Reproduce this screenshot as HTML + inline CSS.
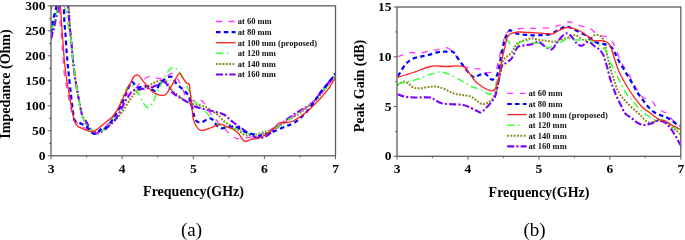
<!DOCTYPE html>
<html><head><meta charset="utf-8"><style>
html,body{margin:0;padding:0;background:#fff;width:685px;height:240px;overflow:hidden}
svg{display:block;filter:blur(0.3px)}
</style></head><body>
<svg width="685" height="240" viewBox="0 0 685 240">
<defs>
<clipPath id="ca"><rect x="51.0" y="5.8" width="284.5" height="150.0"/></clipPath>
<clipPath id="cb"><rect x="397.0" y="7.0" width="283.79999999999995" height="149.3"/></clipPath>
</defs>
<style>
text{font-family:'Liberation Serif',serif;fill:#000}
.tl{font-size:13.5px;font-weight:bold}
.at{font-size:14px;font-weight:bold}
.lg{font-size:8.5px;font-weight:bold;fill:#111}
.cap{font-size:19px}
</style>
<rect width="685" height="240" fill="#fff"/>
<g clip-path="url(#ca)" fill="none" stroke-linejoin="round">
<path d="M51.20,3.00 C51.67,1.50 52.87,-4.17 54.00,-6.00 C55.13,-7.83 56.50,-8.00 58.00,-8.00 C59.50,-8.00 61.50,-7.00 63.00,-6.00 C64.50,-5.00 66.00,-4.67 67.00,-2.00 C68.00,0.67 68.42,3.83 69.00,10.00 C69.58,16.17 69.92,27.50 70.50,35.00 C71.08,42.50 71.80,48.33 72.50,55.00 C73.20,61.67 73.78,68.33 74.70,75.00 C75.62,81.67 76.78,88.33 78.00,95.00 C79.22,101.67 81.17,111.17 82.00,115.00 C82.83,118.83 82.33,116.50 83.00,118.00 C83.67,119.50 84.83,122.17 86.00,124.00 C87.17,125.83 88.55,127.67 90.00,129.00 C91.45,130.33 93.03,131.67 94.70,132.00 C96.37,132.33 98.28,131.62 100.00,131.00 C101.72,130.38 102.78,129.85 105.00,128.30 C107.22,126.75 110.80,123.92 113.30,121.70 C115.80,119.48 118.05,117.37 120.00,115.00 C121.95,112.63 123.33,110.08 125.00,107.50 C126.67,104.92 128.62,101.58 130.00,99.50 C131.38,97.42 132.18,96.30 133.30,95.00 C134.42,93.70 135.03,92.82 136.70,91.70 C138.37,90.58 141.08,89.42 143.30,88.30 C145.52,87.18 148.05,85.97 150.00,85.00 C151.95,84.03 153.33,83.25 155.00,82.50 C156.67,81.75 158.33,80.92 160.00,80.50 C161.67,80.08 163.62,79.25 165.00,80.00 C166.38,80.75 167.18,83.33 168.30,85.00 C169.42,86.67 170.30,88.47 171.70,90.00 C173.10,91.53 175.03,92.82 176.70,94.20 C178.37,95.58 180.32,97.17 181.70,98.30 C183.08,99.43 183.73,100.22 185.00,101.00 C186.27,101.78 187.18,102.38 189.30,103.00 C191.42,103.62 194.92,104.00 197.70,104.70 C200.48,105.40 203.50,106.10 206.00,107.20 C208.50,108.30 210.70,110.00 212.70,111.30 C214.70,112.60 216.00,113.27 218.00,115.00 C220.00,116.73 222.48,119.90 224.70,121.70 C226.92,123.50 229.08,124.42 231.30,125.80 C233.52,127.18 235.77,128.47 238.00,130.00 C240.23,131.53 242.70,134.17 244.70,135.00 C246.70,135.83 248.28,135.05 250.00,135.00 C251.72,134.95 252.78,135.17 255.00,134.70 C257.22,134.23 260.80,132.90 263.30,132.20 C265.80,131.50 267.50,131.48 270.00,130.50 C272.50,129.52 274.97,128.22 278.30,126.30 C281.63,124.38 286.38,121.22 290.00,119.00 C293.62,116.78 296.67,115.33 300.00,113.00 C303.33,110.67 307.00,107.50 310.00,105.00 C313.00,102.50 315.50,100.67 318.00,98.00 C320.50,95.33 322.08,92.67 325.00,89.00 C327.92,85.33 333.75,78.17 335.50,76.00" stroke="#858510" stroke-width="2.0" stroke-dasharray="1.8 1.5" stroke-linecap="butt"/>
<path d="M51.20,39.00 C51.42,38.00 52.05,34.77 52.50,33.00 C52.95,31.23 53.48,30.07 53.90,28.40 C54.32,26.73 54.55,25.17 55.00,23.00 C55.45,20.83 55.98,17.90 56.60,15.40 C57.23,12.90 58.18,10.07 58.75,8.00 C59.32,5.93 59.29,5.17 60.00,3.00 C60.71,0.83 62.00,-4.50 63.00,-5.00 C64.00,-5.50 65.17,-1.87 66.00,0.00 C66.83,1.87 67.58,4.08 68.00,6.20 C68.42,8.32 68.33,10.73 68.50,12.70 C68.67,14.67 68.83,15.83 69.00,18.00 C69.17,20.17 69.12,22.03 69.50,25.70 C69.88,29.37 70.80,35.12 71.30,40.00 C71.80,44.88 71.93,49.17 72.50,55.00 C73.07,60.83 73.78,68.33 74.70,75.00 C75.62,81.67 76.78,88.33 78.00,95.00 C79.22,101.67 80.88,111.00 82.00,115.00 C83.12,119.00 83.78,117.50 84.70,119.00 C85.62,120.50 86.53,122.37 87.50,124.00 C88.47,125.63 89.30,127.30 90.50,128.80 C91.70,130.30 93.28,132.30 94.70,133.00 C96.12,133.70 97.33,133.55 99.00,133.00 C100.67,132.45 102.87,131.03 104.70,129.70 C106.53,128.37 108.28,126.62 110.00,125.00 C111.72,123.38 113.33,122.22 115.00,120.00 C116.67,117.78 118.33,114.75 120.00,111.70 C121.67,108.65 123.62,104.20 125.00,101.70 C126.38,99.20 127.30,98.23 128.30,96.70 C129.30,95.17 129.88,93.62 131.00,92.50 C132.12,91.38 133.22,90.58 135.00,90.00 C136.78,89.42 139.48,89.33 141.70,89.00 C143.92,88.67 146.37,88.37 148.30,88.00 C150.23,87.63 151.35,87.55 153.30,86.80 C155.25,86.05 158.05,84.27 160.00,83.50 C161.95,82.73 163.62,81.67 165.00,82.20 C166.38,82.73 167.18,85.12 168.30,86.70 C169.42,88.28 170.30,90.18 171.70,91.70 C173.10,93.22 175.15,94.70 176.70,95.80 C178.25,96.90 179.17,97.23 181.00,98.30 C182.83,99.37 185.48,100.87 187.70,102.20 C189.92,103.53 191.80,105.20 194.30,106.30 C196.80,107.40 200.13,108.08 202.70,108.80 C205.27,109.52 207.15,109.98 209.70,110.60 C212.25,111.22 215.50,111.77 218.00,112.50 C220.50,113.23 222.48,113.62 224.70,115.00 C226.92,116.38 229.08,119.00 231.30,120.80 C233.52,122.60 235.77,124.18 238.00,125.80 C240.23,127.42 242.70,129.05 244.70,130.50 C246.70,131.95 248.18,133.38 250.00,134.50 C251.82,135.62 253.97,136.58 255.60,137.20 C257.23,137.82 258.40,138.20 259.80,138.20 C261.20,138.20 262.63,137.72 264.00,137.20 C265.37,136.68 266.67,136.05 268.00,135.10 C269.33,134.15 270.00,133.18 272.00,131.50 C274.00,129.82 277.28,127.20 280.00,125.00 C282.72,122.80 285.25,120.52 288.30,118.30 C291.35,116.08 295.23,113.63 298.30,111.70 C301.37,109.77 304.20,108.37 306.70,106.70 C309.20,105.03 311.42,103.48 313.30,101.70 C315.18,99.92 316.05,98.45 318.00,96.00 C319.95,93.55 322.08,90.67 325.00,87.00 C327.92,83.33 333.75,76.17 335.50,74.00" stroke="#7a00ff" stroke-width="2.1" stroke-dasharray="7 2.2 2 2.2" stroke-linecap="butt"/>
<path d="M51.20,31.00 C51.45,30.33 52.23,28.50 52.70,27.00 C53.17,25.50 53.45,24.17 54.00,22.00 C54.55,19.83 55.33,16.67 56.00,14.00 C56.67,11.33 57.33,8.83 58.00,6.00 C58.67,3.17 59.17,-1.83 60.00,-3.00 C60.83,-4.17 62.30,-2.50 63.00,-1.00 C63.70,0.50 63.65,3.83 64.20,6.00 C64.75,8.17 65.67,8.83 66.30,12.00 C66.93,15.17 67.30,21.17 68.00,25.00 C68.70,28.83 69.75,30.00 70.50,35.00 C71.25,40.00 71.80,48.33 72.50,55.00 C73.20,61.67 73.78,68.33 74.70,75.00 C75.62,81.67 76.78,88.33 78.00,95.00 C79.22,101.67 80.67,110.17 82.00,115.00 C83.33,119.83 84.58,121.58 86.00,124.00 C87.42,126.42 88.78,127.72 90.50,129.50 C92.22,131.28 94.38,134.45 96.30,134.70 C98.22,134.95 100.05,132.62 102.00,131.00 C103.95,129.38 105.83,127.67 108.00,125.00 C110.17,122.33 113.00,118.33 115.00,115.00 C117.00,111.67 118.88,107.78 120.00,105.00 C121.12,102.22 120.58,101.08 121.70,98.30 C122.82,95.52 125.32,90.52 126.70,88.30 C128.08,86.08 128.90,85.27 130.00,85.00 C131.10,84.73 132.13,85.62 133.30,86.70 C134.47,87.78 135.87,89.90 137.00,91.50 C138.13,93.10 139.18,94.63 140.10,96.30 C141.02,97.97 141.60,99.88 142.50,101.50 C143.40,103.12 144.63,104.98 145.50,106.00 C146.37,107.02 147.00,107.45 147.70,107.60 C148.40,107.75 148.98,107.50 149.70,106.90 C150.42,106.30 151.28,105.07 152.00,104.00 C152.72,102.93 153.40,101.83 154.00,100.50 C154.60,99.17 155.02,97.50 155.60,96.00 C156.18,94.50 156.77,93.05 157.50,91.50 C158.23,89.95 158.75,89.17 160.00,86.70 C161.25,84.23 163.47,79.48 165.00,76.70 C166.53,73.92 167.82,71.53 169.20,70.00 C170.58,68.47 171.78,67.37 173.30,67.50 C174.82,67.63 176.77,69.27 178.30,70.80 C179.83,72.33 181.10,74.33 182.50,76.70 C183.90,79.07 185.45,82.23 186.70,85.00 C187.95,87.77 188.95,90.97 190.00,93.30 C191.05,95.63 191.72,97.10 193.00,99.00 C194.28,100.90 196.23,103.07 197.70,104.70 C199.17,106.33 200.28,107.42 201.80,108.80 C203.32,110.18 205.40,111.60 206.80,113.00 C208.20,114.40 209.17,116.03 210.20,117.20 C211.23,118.37 211.70,118.83 213.00,120.00 C214.30,121.17 215.78,122.95 218.00,124.20 C220.22,125.45 223.25,126.67 226.30,127.50 C229.35,128.33 233.23,128.50 236.30,129.20 C239.37,129.90 242.42,130.90 244.70,131.70 C246.98,132.50 247.73,133.50 250.00,134.00 C252.27,134.50 254.97,135.15 258.30,134.70 C261.63,134.25 266.38,132.83 270.00,131.30 C273.62,129.77 276.67,127.67 280.00,125.50 C283.33,123.33 286.67,120.55 290.00,118.30 C293.33,116.05 296.67,114.38 300.00,112.00 C303.33,109.62 307.00,106.50 310.00,104.00 C313.00,101.50 315.50,99.50 318.00,97.00 C320.50,94.50 322.08,92.50 325.00,89.00 C327.92,85.50 333.75,78.17 335.50,76.00" stroke="#3dff3d" stroke-width="1.5" stroke-dasharray="7.3 3.4 1.6 3.4" stroke-linecap="butt"/>
<path d="M51.20,2.00 C51.67,0.67 52.95,-5.00 54.00,-6.00 C55.05,-7.00 56.63,-6.00 57.50,-4.00 C58.37,-2.00 58.82,2.83 59.20,6.00 C59.58,9.17 59.60,11.50 59.80,15.00 C60.00,18.50 60.17,24.00 60.40,27.00 C60.63,30.00 60.93,30.33 61.20,33.00 C61.47,35.67 61.73,39.33 62.00,43.00 C62.27,46.67 62.40,49.67 62.80,55.00 C63.20,60.33 63.82,70.00 64.40,75.00 C64.98,80.00 65.53,80.83 66.30,85.00 C67.07,89.17 68.05,95.50 69.00,100.00 C69.95,104.50 71.00,108.67 72.00,112.00 C73.00,115.33 73.67,117.75 75.00,120.00 C76.33,122.25 78.33,124.17 80.00,125.50 C81.67,126.83 83.33,127.08 85.00,128.00 C86.67,128.92 88.33,130.17 90.00,131.00 C91.67,131.83 93.33,132.92 95.00,133.00 C96.67,133.08 98.33,132.50 100.00,131.50 C101.67,130.50 103.17,128.92 105.00,127.00 C106.83,125.08 109.00,122.83 111.00,120.00 C113.00,117.17 115.17,113.00 117.00,110.00 C118.83,107.00 120.50,104.33 122.00,102.00 C123.50,99.67 124.67,97.50 126.00,96.00 C127.33,94.50 128.22,94.50 130.00,93.00 C131.78,91.50 135.03,88.67 136.70,87.00 C138.37,85.33 138.90,84.17 140.00,83.00 C141.10,81.83 142.18,80.92 143.30,80.00 C144.42,79.08 145.25,78.08 146.70,77.50 C148.15,76.92 150.62,76.50 152.00,76.50 C153.38,76.50 153.95,77.20 155.00,77.50 C156.05,77.80 156.92,78.13 158.30,78.30 C159.68,78.47 161.63,79.05 163.30,78.50 C164.97,77.95 166.90,75.87 168.30,75.00 C169.70,74.13 170.58,73.13 171.70,73.30 C172.82,73.47 173.90,74.88 175.00,76.00 C176.10,77.12 177.33,78.50 178.30,80.00 C179.27,81.50 179.97,83.20 180.80,85.00 C181.63,86.80 182.47,88.85 183.30,90.80 C184.13,92.75 185.02,95.08 185.80,96.70 C186.58,98.32 186.97,99.78 188.00,100.50 C189.03,101.22 190.83,101.00 192.00,101.00 C193.17,101.00 193.78,100.72 195.00,100.50 C196.22,100.28 198.02,99.57 199.30,99.70 C200.58,99.83 201.72,100.47 202.70,101.30 C203.68,102.13 204.37,103.30 205.20,104.70 C206.03,106.10 206.40,107.73 207.70,109.70 C209.00,111.67 211.57,114.78 213.00,116.50 C214.43,118.22 215.13,118.75 216.30,120.00 C217.47,121.25 218.60,122.62 220.00,124.00 C221.40,125.38 223.23,126.75 224.70,128.30 C226.17,129.85 226.87,131.63 228.80,133.30 C230.73,134.97 234.22,137.47 236.30,138.30 C238.38,139.13 239.35,138.43 241.30,138.30 C243.25,138.17 245.22,137.88 248.00,137.50 C250.78,137.12 255.17,136.75 258.00,136.00 C260.83,135.25 263.00,134.00 265.00,133.00 C267.00,132.00 267.50,131.50 270.00,130.00 C272.50,128.50 276.67,126.00 280.00,124.00 C283.33,122.00 286.67,120.00 290.00,118.00 C293.33,116.00 296.67,114.33 300.00,112.00 C303.33,109.67 307.00,106.50 310.00,104.00 C313.00,101.50 315.50,99.50 318.00,97.00 C320.50,94.50 322.08,92.50 325.00,89.00 C327.92,85.50 333.75,78.17 335.50,76.00" stroke="#ff33ff" stroke-width="1.3" stroke-dasharray="6 6.5" stroke-linecap="butt"/>
<path d="M51.20,33.00 C51.37,31.83 51.85,28.33 52.20,26.00 C52.55,23.67 52.75,21.50 53.30,19.00 C53.85,16.50 54.97,13.17 55.50,11.00 C56.03,8.83 56.00,8.50 56.50,6.00 C57.00,3.50 57.67,-2.50 58.50,-4.00 C59.33,-5.50 60.65,-4.70 61.50,-3.00 C62.35,-1.30 63.15,2.70 63.60,6.20 C64.05,9.70 64.02,14.75 64.20,18.00 C64.38,21.25 64.48,22.87 64.70,25.70 C64.92,28.53 65.20,30.95 65.50,35.00 C65.80,39.05 66.17,45.50 66.50,50.00 C66.83,54.50 67.12,57.83 67.50,62.00 C67.88,66.17 68.22,69.50 68.80,75.00 C69.38,80.50 70.30,88.83 71.00,95.00 C71.70,101.17 72.38,107.75 73.00,112.00 C73.62,116.25 73.58,118.67 74.70,120.50 C75.82,122.33 77.77,122.03 79.70,123.00 C81.63,123.97 84.37,124.77 86.30,126.30 C88.23,127.83 89.63,130.95 91.30,132.20 C92.97,133.45 94.57,134.45 96.30,133.80 C98.03,133.15 99.97,129.35 101.70,128.30 C103.43,127.25 104.77,129.17 106.70,127.50 C108.63,125.83 111.37,121.22 113.30,118.30 C115.23,115.38 116.77,112.63 118.30,110.00 C119.83,107.37 121.47,104.72 122.50,102.50 C123.53,100.28 123.58,98.95 124.50,96.70 C125.42,94.45 126.83,91.45 128.00,89.00 C129.17,86.55 130.33,82.67 131.50,82.00 C132.67,81.33 133.92,84.08 135.00,85.00 C136.08,85.92 136.88,87.22 138.00,87.50 C139.12,87.78 140.25,86.95 141.70,86.70 C143.15,86.45 145.23,85.70 146.70,86.00 C148.17,86.30 149.12,87.67 150.50,88.50 C151.88,89.33 153.83,91.08 155.00,91.00 C156.17,90.92 156.67,89.33 157.50,88.00 C158.33,86.67 158.75,84.47 160.00,83.00 C161.25,81.53 163.33,80.25 165.00,79.20 C166.67,78.15 168.62,76.85 170.00,76.70 C171.38,76.55 172.18,77.05 173.30,78.30 C174.42,79.55 175.30,82.53 176.70,84.20 C178.10,85.87 180.03,86.78 181.70,88.30 C183.37,89.82 185.48,91.85 186.70,93.30 C187.92,94.75 188.28,95.38 189.00,97.00 C189.72,98.62 190.38,100.88 191.00,103.00 C191.62,105.12 192.12,107.37 192.70,109.70 C193.28,112.03 193.78,115.03 194.50,117.00 C195.22,118.97 195.87,120.58 197.00,121.50 C198.13,122.42 200.02,122.62 201.30,122.50 C202.58,122.38 203.30,121.50 204.70,120.80 C206.10,120.10 208.32,118.43 209.70,118.30 C211.08,118.17 211.90,118.88 213.00,120.00 C214.10,121.12 214.92,123.62 216.30,125.00 C217.68,126.38 219.35,128.02 221.30,128.30 C223.25,128.58 226.05,126.97 228.00,126.70 C229.95,126.43 231.33,126.57 233.00,126.70 C234.67,126.83 236.05,126.67 238.00,127.50 C239.95,128.33 242.70,130.70 244.70,131.70 C246.70,132.70 248.00,132.95 250.00,133.50 C252.00,134.05 255.03,134.62 256.70,135.00 C258.37,135.38 258.45,135.97 260.00,135.80 C261.55,135.63 263.78,134.68 266.00,134.00 C268.22,133.32 270.13,132.92 273.30,131.70 C276.47,130.48 281.67,128.10 285.00,126.70 C288.33,125.30 290.80,124.70 293.30,123.30 C295.80,121.90 297.77,120.23 300.00,118.30 C302.23,116.37 304.48,114.20 306.70,111.70 C308.92,109.20 311.08,106.42 313.30,103.30 C315.52,100.18 317.77,96.05 320.00,93.00 C322.23,89.95 324.48,87.75 326.70,85.00 C328.92,82.25 331.83,78.42 333.30,76.50 C334.77,74.58 335.13,74.00 335.50,73.50" stroke="#0000ff" stroke-width="2.2" stroke-dasharray="4.5 3.3" stroke-linecap="butt"/>
<path d="M51.20,9.00 C51.50,7.17 52.20,0.83 53.00,-2.00 C53.80,-4.83 55.00,-8.17 56.00,-8.00 C57.00,-7.83 58.27,-3.33 59.00,-1.00 C59.73,1.33 59.90,0.83 60.40,6.00 C60.90,11.17 61.53,23.50 62.00,30.00 C62.47,36.50 62.82,40.00 63.20,45.00 C63.58,50.00 63.83,55.00 64.30,60.00 C64.77,65.00 65.30,70.00 66.00,75.00 C66.70,80.00 67.67,85.00 68.50,90.00 C69.33,95.00 70.25,100.83 71.00,105.00 C71.75,109.17 72.38,112.17 73.00,115.00 C73.62,117.83 73.87,120.08 74.70,122.00 C75.53,123.92 76.62,125.37 78.00,126.50 C79.38,127.63 81.05,128.00 83.00,128.80 C84.95,129.60 87.70,130.97 89.70,131.30 C91.70,131.63 92.73,131.98 95.00,130.80 C97.27,129.62 100.52,126.42 103.30,124.20 C106.08,121.98 109.47,119.73 111.70,117.50 C113.93,115.27 115.00,113.63 116.70,110.80 C118.40,107.97 120.52,103.30 121.90,100.50 C123.28,97.70 123.97,96.12 125.00,94.00 C126.03,91.88 127.07,89.88 128.10,87.80 C129.13,85.72 130.27,83.30 131.20,81.50 C132.13,79.70 132.85,78.08 133.70,77.00 C134.55,75.92 135.45,75.23 136.30,75.00 C137.15,74.77 137.87,74.85 138.80,75.60 C139.73,76.35 140.87,78.18 141.90,79.50 C142.93,80.82 143.93,82.17 145.00,83.50 C146.07,84.83 147.13,86.17 148.30,87.50 C149.47,88.83 150.60,90.38 152.00,91.50 C153.40,92.62 155.20,93.57 156.70,94.20 C158.20,94.83 159.62,95.17 161.00,95.30 C162.38,95.43 163.92,95.50 165.00,95.00 C166.08,94.50 166.67,93.42 167.50,92.30 C168.33,91.18 168.75,90.35 170.00,88.30 C171.25,86.25 173.47,82.50 175.00,80.00 C176.53,77.50 177.95,73.72 179.20,73.30 C180.45,72.88 181.25,75.83 182.50,77.50 C183.75,79.17 185.58,82.18 186.70,83.30 C187.82,84.42 188.60,82.58 189.20,84.20 C189.80,85.82 189.87,89.58 190.30,93.00 C190.73,96.42 191.40,100.82 191.80,104.70 C192.20,108.58 192.37,113.75 192.70,116.30 C193.03,118.85 193.33,118.55 193.80,120.00 C194.27,121.45 194.52,123.33 195.50,125.00 C196.48,126.67 198.17,129.17 199.70,130.00 C201.23,130.83 202.77,130.42 204.70,130.00 C206.63,129.58 209.08,128.33 211.30,127.50 C213.52,126.67 216.33,125.55 218.00,125.00 C219.67,124.45 219.92,123.92 221.30,124.20 C222.68,124.48 224.35,125.87 226.30,126.70 C228.25,127.53 231.05,128.15 233.00,129.20 C234.95,130.25 236.83,131.93 238.00,133.00 C239.17,134.07 239.15,134.40 240.00,135.60 C240.85,136.80 242.05,139.25 243.10,140.20 C244.15,141.15 245.08,141.42 246.30,141.30 C247.52,141.18 249.02,139.92 250.40,139.50 C251.78,139.08 253.20,139.03 254.60,138.80 C256.00,138.57 257.23,138.63 258.80,138.10 C260.37,137.57 262.47,136.40 264.00,135.60 C265.53,134.80 266.83,134.07 268.00,133.30 C269.17,132.53 269.83,132.00 271.00,131.00 C272.17,130.00 273.70,128.63 275.00,127.30 C276.30,125.97 277.20,123.77 278.80,123.00 C280.40,122.23 282.67,122.87 284.60,122.70 C286.53,122.53 288.45,122.58 290.40,122.00 C292.35,121.42 294.37,120.30 296.30,119.20 C298.23,118.10 300.07,116.77 302.00,115.40 C303.93,114.03 305.93,112.70 307.90,111.00 C309.87,109.30 311.85,107.13 313.80,105.20 C315.75,103.27 317.73,101.43 319.60,99.40 C321.47,97.37 323.27,95.12 325.00,93.00 C326.73,90.88 328.25,89.28 330.00,86.70 C331.75,84.12 334.58,79.03 335.50,77.50" stroke="#ff2020" stroke-width="1.3" stroke-dasharray="none" stroke-linecap="butt"/>
</g>
<g clip-path="url(#cb)" fill="none" stroke-linejoin="round">
<path d="M397.50,85.00 C398.47,84.45 401.50,81.98 403.30,81.70 C405.10,81.42 406.63,82.33 408.30,83.30 C409.97,84.27 411.35,86.67 413.30,87.50 C415.25,88.33 417.50,88.38 420.00,88.30 C422.50,88.22 425.52,87.27 428.30,87.00 C431.08,86.73 433.92,86.33 436.70,86.70 C439.48,87.07 442.23,88.10 445.00,89.20 C447.77,90.30 450.52,92.33 453.30,93.30 C456.08,94.27 458.92,94.52 461.70,95.00 C464.48,95.48 467.50,95.28 470.00,96.20 C472.50,97.12 474.75,99.20 476.70,100.50 C478.65,101.80 479.77,103.67 481.70,104.00 C483.63,104.33 486.37,103.58 488.30,102.50 C490.23,101.42 491.90,99.58 493.30,97.50 C494.70,95.42 495.87,92.37 496.70,90.00 C497.53,87.63 497.47,87.18 498.30,83.30 C499.13,79.42 500.83,70.58 501.70,66.70 C502.57,62.82 502.67,61.67 503.50,60.00 C504.33,58.33 505.33,57.95 506.70,56.70 C508.07,55.45 510.32,54.17 511.70,52.50 C513.08,50.83 513.90,48.37 515.00,46.70 C516.10,45.03 516.63,43.62 518.30,42.50 C519.97,41.38 522.77,40.70 525.00,40.00 C527.23,39.30 529.20,38.30 531.70,38.30 C534.20,38.30 537.50,39.58 540.00,40.00 C542.50,40.42 544.48,40.52 546.70,40.80 C548.92,41.08 551.08,41.83 553.30,41.70 C555.52,41.57 557.50,40.70 560.00,40.00 C562.50,39.30 565.80,38.33 568.30,37.50 C570.80,36.67 573.05,34.92 575.00,35.00 C576.95,35.08 578.33,37.08 580.00,38.00 C581.67,38.92 583.33,40.33 585.00,40.50 C586.67,40.67 588.33,39.92 590.00,39.00 C591.67,38.08 593.33,35.53 595.00,35.00 C596.67,34.47 598.67,35.13 600.00,35.80 C601.33,36.47 602.17,37.47 603.00,39.00 C603.83,40.53 604.42,42.83 605.00,45.00 C605.58,47.17 605.95,49.50 606.50,52.00 C607.05,54.50 607.58,57.00 608.30,60.00 C609.02,63.00 609.82,66.67 610.80,70.00 C611.78,73.33 613.08,76.67 614.20,80.00 C615.32,83.33 616.25,87.22 617.50,90.00 C618.75,92.78 620.45,94.95 621.70,96.70 C622.95,98.45 623.48,98.83 625.00,100.50 C626.52,102.17 628.85,104.83 630.80,106.70 C632.75,108.57 634.88,110.03 636.70,111.70 C638.52,113.37 640.03,115.07 641.70,116.70 C643.37,118.33 645.03,120.53 646.70,121.50 C648.37,122.47 649.77,122.75 651.70,122.50 C653.63,122.25 656.37,120.28 658.30,120.00 C660.23,119.72 661.63,120.25 663.30,120.80 C664.97,121.35 666.63,122.05 668.30,123.30 C669.97,124.55 671.85,127.02 673.30,128.30 C674.75,129.58 675.72,129.88 677.00,131.00 C678.28,132.12 680.33,134.33 681.00,135.00" stroke="#858510" stroke-width="2.0" stroke-dasharray="1.8 1.5" stroke-linecap="butt"/>
<path d="M397.50,94.20 C398.75,94.62 402.08,96.15 405.00,96.70 C407.92,97.25 410.83,97.37 415.00,97.50 C419.17,97.63 426.67,97.08 430.00,97.50 C433.33,97.92 433.05,99.03 435.00,100.00 C436.95,100.97 438.92,102.60 441.70,103.30 C444.48,104.00 448.10,103.92 451.70,104.20 C455.30,104.48 460.25,104.45 463.30,105.00 C466.35,105.55 467.77,106.53 470.00,107.50 C472.23,108.47 474.90,109.97 476.70,110.80 C478.50,111.63 479.28,112.92 480.80,112.50 C482.32,112.08 483.98,110.10 485.80,108.30 C487.62,106.50 490.17,103.63 491.70,101.70 C493.23,99.77 494.17,98.65 495.00,96.70 C495.83,94.75 495.95,93.45 496.70,90.00 C497.45,86.55 498.67,79.92 499.50,76.00 C500.33,72.08 500.50,68.75 501.70,66.50 C502.90,64.25 505.03,63.87 506.70,62.50 C508.37,61.13 510.32,60.10 511.70,58.30 C513.08,56.50 513.90,53.63 515.00,51.70 C516.10,49.77 516.63,47.77 518.30,46.70 C519.97,45.63 522.77,45.72 525.00,45.30 C527.23,44.88 529.48,44.80 531.70,44.20 C533.92,43.60 536.08,41.32 538.30,41.70 C540.52,42.08 542.77,45.20 545.00,46.50 C547.23,47.80 549.75,50.08 551.70,49.50 C553.65,48.92 555.03,45.13 556.70,43.00 C558.37,40.87 560.03,38.32 561.70,36.70 C563.37,35.08 565.03,33.30 566.70,33.30 C568.37,33.30 570.03,35.03 571.70,36.70 C573.37,38.37 575.03,41.78 576.70,43.30 C578.37,44.82 579.77,46.07 581.70,45.80 C583.63,45.53 586.08,41.55 588.30,41.70 C590.52,41.85 593.05,45.32 595.00,46.70 C596.95,48.08 598.62,48.62 600.00,50.00 C601.38,51.38 602.47,53.33 603.30,55.00 C604.13,56.67 604.30,57.78 605.00,60.00 C605.70,62.22 606.67,65.25 607.50,68.30 C608.33,71.35 609.03,75.02 610.00,78.30 C610.97,81.58 612.18,84.93 613.30,88.00 C614.42,91.07 615.30,93.58 616.70,96.70 C618.10,99.82 620.32,103.93 621.70,106.70 C623.08,109.47 623.33,111.37 625.00,113.30 C626.67,115.23 629.48,116.63 631.70,118.30 C633.92,119.97 636.08,122.18 638.30,123.30 C640.52,124.42 642.77,125.00 645.00,125.00 C647.23,125.00 649.48,124.00 651.70,123.30 C653.92,122.60 656.08,120.93 658.30,120.80 C660.52,120.67 663.05,121.38 665.00,122.50 C666.95,123.62 668.50,125.67 670.00,127.50 C671.50,129.33 672.75,131.50 674.00,133.50 C675.25,135.50 676.33,137.42 677.50,139.50 C678.67,141.58 680.42,144.92 681.00,146.00" stroke="#7a00ff" stroke-width="2.1" stroke-dasharray="7 2.2 2 2.2" stroke-linecap="butt"/>
<path d="M397.50,84.00 C398.25,83.83 400.75,83.25 402.00,83.00 C403.25,82.75 403.67,82.83 405.00,82.50 C406.33,82.17 407.78,81.58 410.00,81.00 C412.22,80.42 414.97,80.08 418.30,79.00 C421.63,77.92 426.38,75.67 430.00,74.50 C433.62,73.33 437.33,72.20 440.00,72.00 C442.67,71.80 444.17,72.80 446.00,73.30 C447.83,73.80 448.38,73.75 451.00,75.00 C453.62,76.25 458.25,78.85 461.70,80.80 C465.15,82.75 468.65,85.30 471.70,86.70 C474.75,88.10 477.50,88.10 480.00,89.20 C482.50,90.30 484.75,92.62 486.70,93.30 C488.65,93.98 490.03,95.23 491.70,93.30 C493.37,91.37 495.32,85.87 496.70,81.70 C498.08,77.53 499.12,72.75 500.00,68.30 C500.88,63.85 501.17,59.72 502.00,55.00 C502.83,50.28 503.67,41.95 505.00,40.00 C506.33,38.05 508.33,42.18 510.00,43.30 C511.67,44.42 513.33,46.83 515.00,46.70 C516.67,46.57 518.05,43.48 520.00,42.50 C521.95,41.52 524.20,40.67 526.70,40.80 C529.20,40.93 532.23,42.88 535.00,43.30 C537.77,43.72 541.08,42.47 543.30,43.30 C545.52,44.13 546.63,48.02 548.30,48.30 C549.97,48.58 551.07,46.10 553.30,45.00 C555.53,43.90 559.20,42.82 561.70,41.70 C564.20,40.58 566.37,38.58 568.30,38.30 C570.23,38.02 571.07,39.72 573.30,40.00 C575.53,40.28 579.20,40.03 581.70,40.00 C584.20,39.97 586.63,39.67 588.30,39.80 C589.97,39.93 589.75,39.80 591.70,40.80 C593.65,41.80 597.78,44.27 600.00,45.80 C602.22,47.33 603.33,47.35 605.00,50.00 C606.67,52.65 608.33,58.08 610.00,61.70 C611.67,65.32 613.47,68.65 615.00,71.70 C616.53,74.75 617.82,77.23 619.20,80.00 C620.58,82.77 622.05,85.93 623.30,88.30 C624.55,90.67 625.30,92.25 626.70,94.20 C628.10,96.15 630.03,98.07 631.70,100.00 C633.37,101.93 634.90,103.85 636.70,105.80 C638.50,107.75 640.62,110.00 642.50,111.70 C644.38,113.40 645.92,114.62 648.00,116.00 C650.08,117.38 653.00,119.33 655.00,120.00 C657.00,120.67 658.33,119.83 660.00,120.00 C661.67,120.17 663.00,120.00 665.00,121.00 C667.00,122.00 669.33,124.33 672.00,126.00 C674.67,127.67 679.50,130.17 681.00,131.00" stroke="#3dff3d" stroke-width="1.5" stroke-dasharray="7.3 3.4 1.6 3.4" stroke-linecap="butt"/>
<path d="M397.50,56.70 C398.75,56.28 402.63,54.90 405.00,54.20 C407.37,53.50 409.20,52.65 411.70,52.50 C414.20,52.35 416.67,53.72 420.00,53.30 C423.33,52.88 429.03,50.55 431.70,50.00 C434.37,49.45 433.62,50.42 436.00,50.00 C438.38,49.58 443.22,47.22 446.00,47.50 C448.78,47.78 451.03,50.32 452.70,51.70 C454.37,53.08 454.78,54.25 456.00,55.80 C457.22,57.35 458.62,59.18 460.00,61.00 C461.38,62.82 461.92,65.48 464.30,66.70 C466.68,67.92 470.97,67.75 474.30,68.30 C477.63,68.85 482.35,69.30 484.30,70.00 C486.25,70.70 485.05,72.08 486.00,72.50 C486.95,72.92 488.62,72.63 490.00,72.50 C491.38,72.37 493.17,72.40 494.30,71.70 C495.43,71.00 495.82,71.37 496.80,68.30 C497.78,65.23 499.22,57.18 500.20,53.30 C501.18,49.42 501.90,48.05 502.70,45.00 C503.50,41.95 503.95,37.33 505.00,35.00 C506.05,32.67 507.62,31.97 509.00,31.00 C510.38,30.03 510.35,29.65 513.30,29.20 C516.25,28.75 522.53,28.45 526.70,28.30 C530.87,28.15 534.13,28.43 538.30,28.30 C542.47,28.17 548.08,28.05 551.70,27.50 C555.32,26.95 557.23,25.95 560.00,25.00 C562.77,24.05 566.08,22.08 568.30,21.80 C570.52,21.52 571.35,22.63 573.30,23.30 C575.25,23.97 578.05,25.23 580.00,25.80 C581.95,26.37 583.33,26.28 585.00,26.70 C586.67,27.12 588.33,27.33 590.00,28.30 C591.67,29.27 593.05,31.25 595.00,32.50 C596.95,33.75 599.48,34.97 601.70,35.80 C603.92,36.63 606.37,36.25 608.30,37.50 C610.23,38.75 611.77,40.67 613.30,43.30 C614.83,45.93 616.10,49.97 617.50,53.30 C618.90,56.63 619.90,59.97 621.70,63.30 C623.50,66.63 626.37,69.97 628.30,73.30 C630.23,76.63 631.35,79.82 633.30,83.30 C635.25,86.78 638.33,91.83 640.00,94.20 C641.67,96.57 641.22,96.25 643.30,97.50 C645.38,98.75 650.42,100.17 652.50,101.70 C654.58,103.23 654.00,105.03 655.80,106.70 C657.60,108.37 661.22,110.52 663.30,111.70 C665.38,112.88 666.85,112.50 668.30,113.80 C669.75,115.10 670.60,117.77 672.00,119.50 C673.40,121.23 675.20,123.15 676.70,124.20 C678.20,125.25 680.28,125.53 681.00,125.80" stroke="#ff33ff" stroke-width="1.3" stroke-dasharray="6 6.5" stroke-linecap="butt"/>
<path d="M397.50,76.00 C397.78,75.70 397.95,76.03 399.20,74.20 C400.45,72.37 402.92,67.50 405.00,65.00 C407.08,62.50 409.20,60.58 411.70,59.20 C414.20,57.82 417.23,57.40 420.00,56.70 C422.77,56.00 425.25,55.75 428.30,55.00 C431.35,54.25 435.52,52.75 438.30,52.20 C441.08,51.65 442.60,51.78 445.00,51.70 C447.40,51.62 450.87,51.02 452.70,51.70 C454.53,52.38 454.33,53.58 456.00,55.80 C457.67,58.02 460.48,62.08 462.70,65.00 C464.92,67.92 467.37,71.22 469.30,73.30 C471.23,75.38 472.63,77.22 474.30,77.50 C475.97,77.78 477.63,75.70 479.30,75.00 C480.97,74.30 482.90,73.17 484.30,73.30 C485.70,73.43 486.58,74.82 487.70,75.80 C488.82,76.78 489.95,78.67 491.00,79.20 C492.05,79.73 492.88,79.98 494.00,79.00 C495.12,78.02 496.53,77.02 497.70,73.30 C498.87,69.58 500.03,61.42 501.00,56.70 C501.97,51.98 502.83,48.07 503.50,45.00 C504.17,41.93 504.05,40.67 505.00,38.30 C505.95,35.93 508.08,32.05 509.20,30.80 C510.32,29.55 510.18,30.27 511.70,30.80 C513.22,31.33 515.53,33.30 518.30,34.00 C521.07,34.70 524.97,34.78 528.30,35.00 C531.63,35.22 534.68,35.43 538.30,35.30 C541.92,35.17 546.67,35.08 550.00,34.20 C553.33,33.32 555.80,31.25 558.30,30.00 C560.80,28.75 563.05,27.12 565.00,26.70 C566.95,26.28 568.05,26.82 570.00,27.50 C571.95,28.18 574.48,29.72 576.70,30.80 C578.92,31.88 581.08,32.75 583.30,34.00 C585.52,35.25 587.50,36.75 590.00,38.30 C592.50,39.85 595.80,42.32 598.30,43.30 C600.80,44.28 602.77,43.50 605.00,44.20 C607.23,44.90 610.03,46.03 611.70,47.50 C613.37,48.97 613.90,50.92 615.00,53.00 C616.10,55.08 616.92,57.45 618.30,60.00 C619.68,62.55 621.63,65.52 623.30,68.30 C624.97,71.08 626.63,73.92 628.30,76.70 C629.97,79.48 631.90,82.50 633.30,85.00 C634.70,87.50 635.30,89.48 636.70,91.70 C638.10,93.92 640.03,96.08 641.70,98.30 C643.37,100.52 644.77,102.77 646.70,105.00 C648.63,107.23 651.08,110.03 653.30,111.70 C655.52,113.37 658.05,114.17 660.00,115.00 C661.95,115.83 663.33,116.00 665.00,116.70 C666.67,117.40 668.05,117.95 670.00,119.20 C671.95,120.45 674.87,123.10 676.70,124.20 C678.53,125.30 680.28,125.53 681.00,125.80" stroke="#0000ff" stroke-width="2.2" stroke-dasharray="4.5 3.3" stroke-linecap="butt"/>
<path d="M397.50,77.50 C398.75,77.08 402.37,75.83 405.00,75.00 C407.63,74.17 410.80,73.33 413.30,72.50 C415.80,71.67 417.50,70.92 420.00,70.00 C422.50,69.08 425.52,67.70 428.30,67.00 C431.08,66.30 433.75,65.85 436.70,65.80 C439.65,65.75 442.78,66.70 446.00,66.70 C449.22,66.70 453.08,65.80 456.00,65.80 C458.92,65.80 461.55,65.87 463.50,66.70 C465.45,67.53 466.32,69.13 467.70,70.80 C469.08,72.47 470.42,74.83 471.80,76.70 C473.18,78.57 474.63,80.62 476.00,82.00 C477.37,83.38 478.50,83.95 480.00,85.00 C481.50,86.05 482.78,87.33 485.00,88.30 C487.22,89.27 491.35,91.35 493.30,90.80 C495.25,90.25 495.58,88.18 496.70,85.00 C497.82,81.82 499.15,75.87 500.00,71.70 C500.85,67.53 501.10,63.62 501.80,60.00 C502.50,56.38 503.38,53.50 504.20,50.00 C505.02,46.50 505.90,41.50 506.70,39.00 C507.50,36.50 508.17,35.95 509.00,35.00 C509.83,34.05 510.15,33.80 511.70,33.30 C513.25,32.80 515.25,32.13 518.30,32.00 C521.35,31.87 525.83,32.28 530.00,32.50 C534.17,32.72 539.68,33.05 543.30,33.30 C546.92,33.55 549.58,34.22 551.70,34.00 C553.82,33.78 554.62,32.67 556.00,32.00 C557.38,31.33 558.22,30.75 560.00,30.00 C561.78,29.25 564.48,27.78 566.70,27.50 C568.92,27.22 571.08,27.72 573.30,28.30 C575.52,28.88 577.77,29.80 580.00,31.00 C582.23,32.20 584.87,34.17 586.70,35.50 C588.53,36.83 589.62,38.12 591.00,39.00 C592.38,39.88 592.95,40.50 595.00,40.80 C597.05,41.10 601.08,40.38 603.30,40.80 C605.52,41.22 606.93,41.93 608.30,43.30 C609.67,44.67 610.55,46.72 611.50,49.00 C612.45,51.28 612.87,53.50 614.00,57.00 C615.13,60.50 616.75,66.17 618.30,70.00 C619.85,73.83 621.48,76.67 623.30,80.00 C625.12,83.33 627.25,86.95 629.20,90.00 C631.15,93.05 632.92,95.52 635.00,98.30 C637.08,101.08 639.48,104.47 641.70,106.70 C643.92,108.93 646.08,110.03 648.30,111.70 C650.52,113.37 653.05,115.32 655.00,116.70 C656.95,118.08 658.33,119.32 660.00,120.00 C661.67,120.68 663.05,119.97 665.00,120.80 C666.95,121.63 669.75,123.88 671.70,125.00 C673.65,126.12 675.15,126.75 676.70,127.50 C678.25,128.25 680.28,129.17 681.00,129.50" stroke="#ff2020" stroke-width="1.3" stroke-dasharray="none" stroke-linecap="butt"/>
</g>
<rect x="51.0" y="5.8" width="284.50" height="150.00" fill="none" stroke="#5e5e5e" stroke-width="1.3"/>
<line x1="51.00" y1="155.8" x2="51.00" y2="159.20000000000002" stroke="#5e5e5e" stroke-width="1"/>
<line x1="86.56" y1="155.8" x2="86.56" y2="157.60000000000002" stroke="#5e5e5e" stroke-width="1"/>
<line x1="122.12" y1="155.8" x2="122.12" y2="159.20000000000002" stroke="#5e5e5e" stroke-width="1"/>
<line x1="157.69" y1="155.8" x2="157.69" y2="157.60000000000002" stroke="#5e5e5e" stroke-width="1"/>
<line x1="193.25" y1="155.8" x2="193.25" y2="159.20000000000002" stroke="#5e5e5e" stroke-width="1"/>
<line x1="228.81" y1="155.8" x2="228.81" y2="157.60000000000002" stroke="#5e5e5e" stroke-width="1"/>
<line x1="264.38" y1="155.8" x2="264.38" y2="159.20000000000002" stroke="#5e5e5e" stroke-width="1"/>
<line x1="299.94" y1="155.8" x2="299.94" y2="157.60000000000002" stroke="#5e5e5e" stroke-width="1"/>
<line x1="335.50" y1="155.8" x2="335.50" y2="159.20000000000002" stroke="#5e5e5e" stroke-width="1"/>
<line x1="47.6" y1="155.80" x2="51.0" y2="155.80" stroke="#5e5e5e" stroke-width="1"/>
<line x1="49.2" y1="143.30" x2="51.0" y2="143.30" stroke="#5e5e5e" stroke-width="1"/>
<line x1="47.6" y1="130.80" x2="51.0" y2="130.80" stroke="#5e5e5e" stroke-width="1"/>
<line x1="49.2" y1="118.30" x2="51.0" y2="118.30" stroke="#5e5e5e" stroke-width="1"/>
<line x1="47.6" y1="105.80" x2="51.0" y2="105.80" stroke="#5e5e5e" stroke-width="1"/>
<line x1="49.2" y1="93.30" x2="51.0" y2="93.30" stroke="#5e5e5e" stroke-width="1"/>
<line x1="47.6" y1="80.80" x2="51.0" y2="80.80" stroke="#5e5e5e" stroke-width="1"/>
<line x1="49.2" y1="68.30" x2="51.0" y2="68.30" stroke="#5e5e5e" stroke-width="1"/>
<line x1="47.6" y1="55.80" x2="51.0" y2="55.80" stroke="#5e5e5e" stroke-width="1"/>
<line x1="49.2" y1="43.30" x2="51.0" y2="43.30" stroke="#5e5e5e" stroke-width="1"/>
<line x1="47.6" y1="30.80" x2="51.0" y2="30.80" stroke="#5e5e5e" stroke-width="1"/>
<line x1="49.2" y1="18.30" x2="51.0" y2="18.30" stroke="#5e5e5e" stroke-width="1"/>
<line x1="47.6" y1="5.80" x2="51.0" y2="5.80" stroke="#5e5e5e" stroke-width="1"/>
<text x="51.00" y="172.6" text-anchor="middle" class="tl">3</text>
<text x="122.12" y="172.6" text-anchor="middle" class="tl">4</text>
<text x="193.25" y="172.6" text-anchor="middle" class="tl">5</text>
<text x="264.38" y="172.6" text-anchor="middle" class="tl">6</text>
<text x="335.50" y="172.6" text-anchor="middle" class="tl">7</text>
<text x="45.50" y="159.80" text-anchor="end" class="tl">0</text>
<text x="45.50" y="134.80" text-anchor="end" class="tl">50</text>
<text x="45.50" y="109.80" text-anchor="end" class="tl">100</text>
<text x="45.50" y="84.80" text-anchor="end" class="tl">150</text>
<text x="45.50" y="59.80" text-anchor="end" class="tl">200</text>
<text x="45.50" y="34.80" text-anchor="end" class="tl">250</text>
<text x="45.50" y="9.80" text-anchor="end" class="tl">300</text>
<rect x="397.0" y="7.0" width="283.80" height="149.30" fill="none" stroke="#5e5e5e" stroke-width="1.3"/>
<line x1="397.00" y1="156.3" x2="397.00" y2="159.70000000000002" stroke="#5e5e5e" stroke-width="1"/>
<line x1="432.48" y1="156.3" x2="432.48" y2="158.10000000000002" stroke="#5e5e5e" stroke-width="1"/>
<line x1="467.95" y1="156.3" x2="467.95" y2="159.70000000000002" stroke="#5e5e5e" stroke-width="1"/>
<line x1="503.42" y1="156.3" x2="503.42" y2="158.10000000000002" stroke="#5e5e5e" stroke-width="1"/>
<line x1="538.90" y1="156.3" x2="538.90" y2="159.70000000000002" stroke="#5e5e5e" stroke-width="1"/>
<line x1="574.38" y1="156.3" x2="574.38" y2="158.10000000000002" stroke="#5e5e5e" stroke-width="1"/>
<line x1="609.85" y1="156.3" x2="609.85" y2="159.70000000000002" stroke="#5e5e5e" stroke-width="1"/>
<line x1="645.32" y1="156.3" x2="645.32" y2="158.10000000000002" stroke="#5e5e5e" stroke-width="1"/>
<line x1="680.80" y1="156.3" x2="680.80" y2="159.70000000000002" stroke="#5e5e5e" stroke-width="1"/>
<line x1="393.6" y1="156.30" x2="397.0" y2="156.30" stroke="#5e5e5e" stroke-width="1"/>
<line x1="395.2" y1="131.42" x2="397.0" y2="131.42" stroke="#5e5e5e" stroke-width="1"/>
<line x1="393.6" y1="106.53" x2="397.0" y2="106.53" stroke="#5e5e5e" stroke-width="1"/>
<line x1="395.2" y1="81.65" x2="397.0" y2="81.65" stroke="#5e5e5e" stroke-width="1"/>
<line x1="393.6" y1="56.77" x2="397.0" y2="56.77" stroke="#5e5e5e" stroke-width="1"/>
<line x1="395.2" y1="31.88" x2="397.0" y2="31.88" stroke="#5e5e5e" stroke-width="1"/>
<line x1="393.6" y1="7.00" x2="397.0" y2="7.00" stroke="#5e5e5e" stroke-width="1"/>
<text x="397.00" y="173.2" text-anchor="middle" class="tl">3</text>
<text x="467.95" y="173.2" text-anchor="middle" class="tl">4</text>
<text x="538.90" y="173.2" text-anchor="middle" class="tl">5</text>
<text x="609.85" y="173.2" text-anchor="middle" class="tl">6</text>
<text x="680.80" y="173.2" text-anchor="middle" class="tl">7</text>
<text x="391.50" y="160.30" text-anchor="end" class="tl">0</text>
<text x="391.50" y="110.53" text-anchor="end" class="tl">5</text>
<text x="391.50" y="60.77" text-anchor="end" class="tl">10</text>
<text x="391.50" y="11.00" text-anchor="end" class="tl">15</text>
<line x1="216" y1="21.50" x2="235.5" y2="21.50" stroke="#ff33ff" stroke-width="1.3" stroke-dasharray="6 6.5" stroke-linecap="butt"/>
<text x="237.7" y="24.40" class="lg">at 60 mm</text>
<line x1="216" y1="32.10" x2="235.5" y2="32.10" stroke="#0000ff" stroke-width="2.2" stroke-dasharray="4.5 3.3" stroke-linecap="butt"/>
<text x="237.7" y="35.00" class="lg">at 80 mm</text>
<line x1="216" y1="42.70" x2="235.5" y2="42.70" stroke="#ff2020" stroke-width="1.3" stroke-dasharray="none" stroke-linecap="butt"/>
<text x="237.7" y="45.60" class="lg">at 100 mm (proposed)</text>
<line x1="216" y1="53.30" x2="228.4" y2="53.30" stroke="#3dff3d" stroke-width="1.5" stroke-dasharray="7.3 3.4 1.6 3.4" stroke-linecap="butt"/>
<text x="237.7" y="56.20" class="lg">at 120 mm</text>
<line x1="216" y1="63.90" x2="235.5" y2="63.90" stroke="#858510" stroke-width="2.0" stroke-dasharray="1.8 1.5" stroke-linecap="butt"/>
<text x="237.7" y="66.80" class="lg">at 140 mm</text>
<line x1="216" y1="74.50" x2="235.5" y2="74.50" stroke="#7a00ff" stroke-width="2.1" stroke-dasharray="7 2.2 2 2.2" stroke-linecap="butt"/>
<text x="237.7" y="77.40" class="lg">at 160 mm</text>
<line x1="507.2" y1="93.40" x2="526.6" y2="93.40" stroke="#ff33ff" stroke-width="1.3" stroke-dasharray="6 6.5" stroke-linecap="butt"/>
<text x="528.5" y="96.30" class="lg">at 60 mm</text>
<line x1="507.2" y1="104.00" x2="526.6" y2="104.00" stroke="#0000ff" stroke-width="2.2" stroke-dasharray="4.5 3.3" stroke-linecap="butt"/>
<text x="528.5" y="106.90" class="lg">at 80 mm</text>
<line x1="507.2" y1="114.60" x2="526.6" y2="114.60" stroke="#ff2020" stroke-width="1.3" stroke-dasharray="none" stroke-linecap="butt"/>
<text x="528.5" y="117.50" class="lg">at 100 mm (proposed)</text>
<line x1="507.2" y1="125.20" x2="519.6" y2="125.20" stroke="#3dff3d" stroke-width="1.5" stroke-dasharray="7.3 3.4 1.6 3.4" stroke-linecap="butt"/>
<text x="528.5" y="128.10" class="lg">at 120 mm</text>
<line x1="507.2" y1="135.80" x2="526.6" y2="135.80" stroke="#858510" stroke-width="2.0" stroke-dasharray="1.8 1.5" stroke-linecap="butt"/>
<text x="528.5" y="138.70" class="lg">at 140 mm</text>
<line x1="507.2" y1="146.40" x2="526.6" y2="146.40" stroke="#7a00ff" stroke-width="2.1" stroke-dasharray="7 2.2 2 2.2" stroke-linecap="butt"/>
<text x="528.5" y="149.30" class="lg">at 160 mm</text>
<text x="193.5" y="196.3" text-anchor="middle" class="at">Frequency(GHz)</text>
<text x="539" y="196.8" text-anchor="middle" class="at">Frequency(GHz)</text>
<text transform="translate(10.1,84) rotate(-90)" text-anchor="middle" class="at">Impedance (Ohm)</text>
<text transform="translate(364.3,86) rotate(-90)" text-anchor="middle" class="at">Peak Gain (dB)</text>
<text x="191.5" y="235.5" text-anchor="middle" class="cap">(a)</text>
<text x="534.5" y="235.5" text-anchor="middle" class="cap">(b)</text>
</svg>
</body></html>
